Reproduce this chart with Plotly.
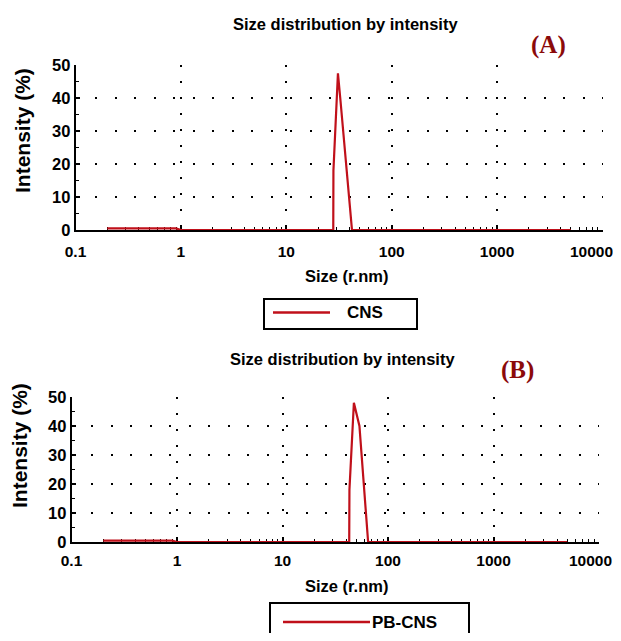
import plotly.graph_objects as go

# ---------------- data ----------------
cns_size = [0.2, 0.3, 0.4, 0.5, 0.6, 0.7, 0.8, 0.9, 1.0, 10, 27.9, 28.0, 30.9, 32.5, 42.0, 100, 1000, 5000]
cns_int = [0.5, 0.5, 0.5, 0.5, 0.6, 0.5, 0.5, 0.5, 0.0, 0.0, 0.0, 18.0, 47.5, 40.0, 0.0, 0.0, 0.0, 0.0]

pb_size = [0.2, 0.3, 0.4, 0.5, 0.6, 0.7, 0.8, 0.9, 1.0, 10, 42.9, 43.1, 47.5, 53.6, 64.8, 100, 1000, 5000]
pb_int = [0.5, 0.5, 0.5, 0.5, 0.6, 0.5, 0.5, 0.5, 0.0, 0.0, 0.0, 18.0, 48.0, 40.0, 0.0, 0.0, 0.0, 0.0]

x_tickvals = [0.1, 1, 10, 100, 1000, 10000]
x_ticktext = ["0.1", "1", "10", "100", "1000", "10000"]
y_tickvals = [0, 10, 20, 30, 40, 50]

title_text = "Size distribution by intensity"
x_title = "Size (r.nm)"
y_title = "Intensity (%)"

RED = "#C0101A"
# the page body keeps its default 8px margin; the figure fills the rest of the
# 621x641 window and every position below is given in window pixels
PAGE_W, PAGE_H, BODY = 621, 641, 8
W, H = PAGE_W - 2 * BODY, PAGE_H - 2 * BODY
SANS = "Liberation Sans, Arial, sans-serif"
SERIF = "Liberation Serif, Times New Roman, serif"

fig = go.Figure()
fig.add_trace(go.Scatter(x=cns_size, y=cns_int, mode="lines", name="CNS",
                         line=dict(color=RED, width=2.2), xaxis="x", yaxis="y", showlegend=False))
fig.add_trace(go.Scatter(x=pb_size, y=pb_int, mode="lines", name="PB-CNS",
                         line=dict(color=RED, width=2.2), xaxis="x2", yaxis="y2", showlegend=False))

def px(x):
    return (x - BODY) / W

def py(y):
    return 1 - (y - BODY) / H

A = (75.5, 602.5, 65, 230)
B = (71.5, 599, 397, 542)

# the last tick label sits left of its tick (as in the original) so it is drawn separately
axis_ticktext = x_ticktext[:-1] + [""]

def xax(box, anchor, standoff):
    return dict(type="log", range=[-1, 4], domain=[px(box[0]), px(box[1])], anchor=anchor,
                tickmode="array", tickvals=x_tickvals, ticktext=axis_ticktext,
                ticks="inside", ticklen=5, tickwidth=1.5, tickcolor="black",
                tickfont=dict(family=SANS, size=15.5, color="black", weight="bold"),
                ticklabeloverflow="allow", ticklabelstandoff=standoff, automargin=False,
                showline=True, linecolor="black", linewidth=1.5,
                showgrid=True, gridcolor="black", gridwidth=2, griddash="2px,14px",
                minor=dict(dtick="D1", ticks="inside", ticklen=3, tickcolor="black", tickwidth=1, showgrid=False),
                zeroline=False, layer="below traces", fixedrange=True)

def yax(box, anchor):
    return dict(range=[0, 50], domain=[py(box[3]), py(box[2])], anchor=anchor,
                tickmode="array", tickvals=y_tickvals, automargin=False,
                ticks="inside", ticklen=5, tickwidth=1.5, tickcolor="black",
                tickfont=dict(family=SANS, size=16.5, color="black", weight="bold"),
                showline=True, linecolor="black", linewidth=1.5,
                showgrid=True, gridcolor="black", gridwidth=2, griddash="2px,17.5px",
                minor=dict(dtick=5, ticks="inside", ticklen=4, tickcolor="black", tickwidth=1, showgrid=False),
                zeroline=False, layer="below traces", fixedrange=True)

annotations = []
def txt(x, y, s, family, size, color="black", angle=0):
    annotations.append(dict(x=px(x), y=py(y), xref="paper", yref="paper", text=s,
                            showarrow=False, textangle=angle, xanchor="center", yanchor="middle",
                            font=dict(family=family, size=size, color=color, weight="bold")))

txt(345, 24, title_text, SANS, 16.5)
txt(548.5, 45, "(A)", SERIF, 25, color="#8B0A0A")
txt(23, 131, y_title, SANS, 21, angle=-90)
txt(346, 276, x_title, SANS, 16.5)
txt(591.5, 251, x_ticktext[-1], SANS, 15.5)
txt(342, 359, title_text, SANS, 16.5)
txt(517, 370, "(B)", SERIF, 25, color="#8B0A0A")
txt(19, 446, y_title, SANS, 21, angle=-90)
txt(346, 586, x_title, SANS, 16.5)
txt(590.5, 560, x_ticktext[-1], SANS, 15.5)

shapes = []
def legend_box(l, r, t, b, x0, x1, ly, label, tx):
    shapes.append(dict(type="rect", xref="paper", yref="paper", x0=px(l), x1=px(r), y0=py(b), y1=py(t),
                       line=dict(color="black", width=2), fillcolor="white"))
    shapes.append(dict(type="line", xref="paper", yref="paper", x0=px(x0), x1=px(x1), y0=py(ly), y1=py(ly),
                       line=dict(color=RED, width=2.5)))
    annotations.append(dict(x=px(tx), y=py(ly), xref="paper", yref="paper", text=label,
                            showarrow=False, xanchor="left", yanchor="middle", xshift=-2,
                            font=dict(family=SANS, size=17, color="black", weight="bold")))

legend_box(264, 417, 299, 329, 273, 330, 312.5, "CNS", 347)
legend_box(270, 469, 603, 660, 283, 370, 622, "PB-CNS", 372)

fig.update_layout(
    width=W, height=H, margin=dict(l=0, r=0, t=0, b=0, pad=0, autoexpand=False),
    paper_bgcolor="white", plot_bgcolor="white",
    xaxis=xax(A, "y", 7), yaxis=yax(A, "x"),
    xaxis2=xax(B, "y2", 4), yaxis2=yax(B, "x2"),
    annotations=annotations, shapes=shapes, showlegend=False,
)

fig.write_html("out.html")
